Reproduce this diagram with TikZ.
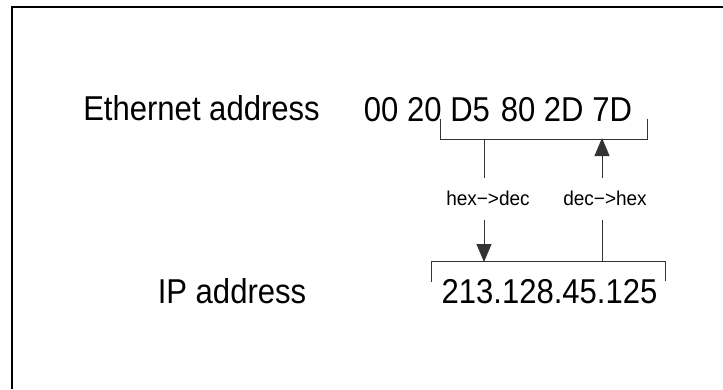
\documentclass[tikz,border=0pt]{standalone}
\usepackage{fontspec}
\setmainfont{Liberation Sans}
\usetikzlibrary{arrows.meta}
\newcommand{\bigtxt}[1]{\scalebox{0.9}[1]{\fontsize{34.5}{40}\selectfont #1}}
\newcommand{\smalltxt}[1]{\scalebox{0.95}[1]{\fontsize{20}{24}\selectfont #1}}
\tikzset{
  frameline/.style={line width=2pt, black},
  thin/.style={line width=0.9pt, black!80},
  txt/.style={inner sep=0pt, anchor=base},
  tip/.style={-{Triangle[length=18pt,width=15pt]}}
}
\begin{document}
\begin{tikzpicture}[x=1pt,y=-1pt]
\useasboundingbox (0,0) rectangle (723,389);
% frame (only top and left edges visible)
\draw[frameline] (12,389) -- (12,7) -- (723,7);
% texts
\node[txt] (eth) at (201.5,120) {\bigtxt{Ethernet address}};
\node[txt] (hex) at (498,121.5) {\bigtxt{00 20 D5\hspace{2.5pt} 80 2D 7D}};
\node[txt] (ip) at (232,303.5) {\bigtxt{IP address}};
\node[txt] (dec) at (549.5,303.5) {\bigtxt{213.128.45.125}};
\node[txt] (hd) at (488,205) {\smalltxt{hex−>dec}};
\node[txt] (dh) at (605,205) {\smalltxt{dec−>hex}};
% bracket coordinates
\coordinate (tbl) at (440,119);
\coordinate (tblb) at (440,139);
\coordinate (tbr) at (647,119);
\coordinate (tbrb) at (647,139);
\coordinate (bbl) at (431,282);
\coordinate (bblt) at (431,261);
\coordinate (bbr) at (665,281);
\coordinate (bbrt) at (665,261);
% top bracket
\draw[thin] (tbl) -- (tblb) -- (tbrb) -- (tbr);
% bottom bracket
\draw[thin] (bbl) -- (bblt) -- (bbrt) -- (bbr);
% down arrow (hex->dec)
\coordinate (d1) at (484,139);
\coordinate (d2) at (484,178);
\coordinate (d3) at (484,220);
\coordinate (d4) at (484,262);
\draw[thin] (d1) -- (d2);
\draw[thin, tip] (d3) -- (d4);
% up arrow (dec->hex)
\coordinate (u1) at (602,261);
\coordinate (u2) at (602,220);
\coordinate (u3) at (602,178);
\coordinate (u4) at (602,138);
\draw[thin] (u1) -- (u2);
\draw[thin, tip] (u3) -- (u4);
\end{tikzpicture}
\end{document}
